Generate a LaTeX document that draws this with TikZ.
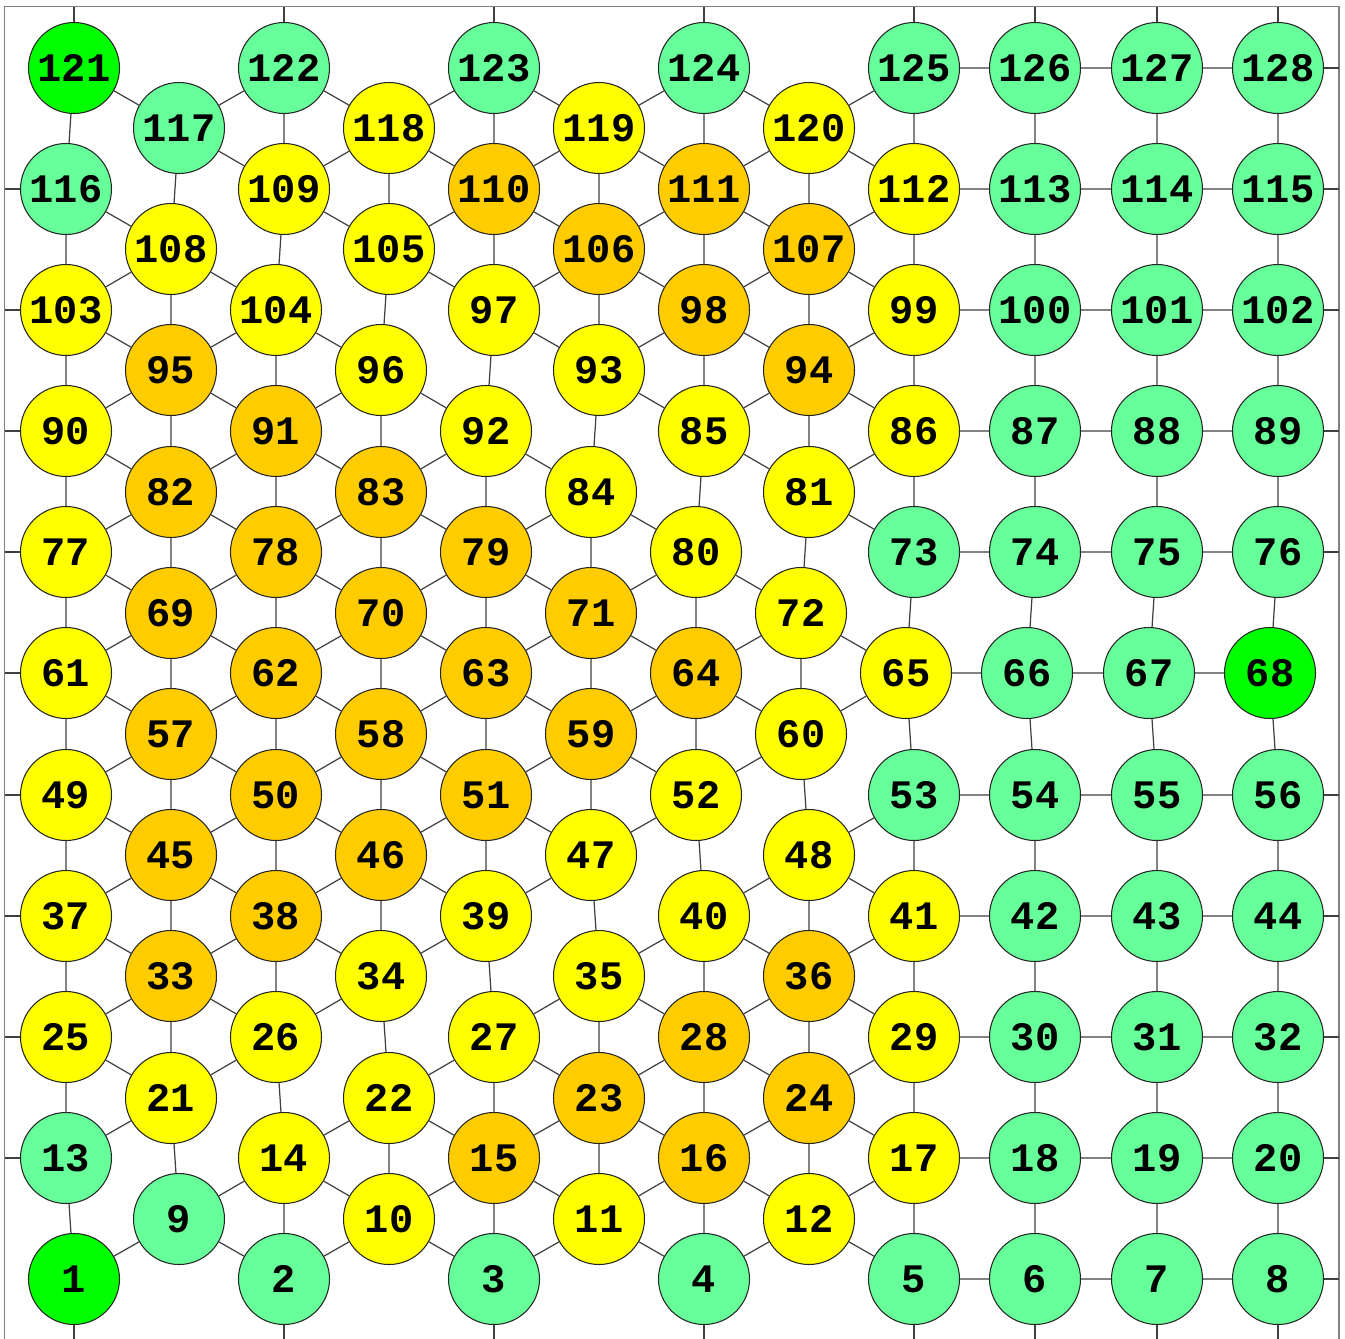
\documentclass[tikz,border=0pt]{standalone}
\usepackage{fontspec}
\usepackage{tikz}
\newfontfamily\meshmono{Liberation Mono}
\definecolor{leafgreen}{HTML}{00FF00}
\definecolor{mintgreen}{HTML}{66FF99}
\definecolor{amberfill}{HTML}{FFCC00}
\definecolor{sunfill}{HTML}{FFFF00}
\tikzset{
  cell/.style={circle, draw=black!85, line width=0.3pt, minimum size=0.91cm,
               inner sep=0pt, font=\meshmono\bfseries\fontsize{11.5}{12}\selectfont},
  leaf/.style={cell, fill=leafgreen},
  mint/.style={cell, fill=mintgreen},
  sun/.style={cell, fill=sunfill},
  amber/.style={cell, fill=amberfill},
  wire/.style={draw=black!75, line width=0.35pt},
  rim/.style={draw=black!50, line width=0.45pt},
}

\begin{document}
\begin{tikzpicture}

\useasboundingbox (0,0) rectangle (13.45,13.38);
\clip (0,0) rectangle (13.45,13.38);
\coordinate (tl) at (0.047,13.313);
\coordinate (br) at (13.387,-0.3);
\draw[rim] (br) rectangle (tl);

% nodes, bottom row first
\node[leaf] (n1) at (0.74,0.59) {1};
\node[mint] (n2) at (2.84,0.59) {2};
\node[mint] (n3) at (4.94,0.59) {3};
\node[mint] (n4) at (7.04,0.59) {4};
\node[mint] (n5) at (9.14,0.59) {5};
\node[mint] (n6) at (10.35,0.59) {6};
\node[mint] (n7) at (11.57,0.59) {7};
\node[mint] (n8) at (12.78,0.59) {8};
\node[mint] (n9) at (1.79,1.19) {9};
\node[sun] (n10) at (3.89,1.19) {10};
\node[sun] (n11) at (5.99,1.19) {11};
\node[sun] (n12) at (8.09,1.19) {12};
\node[mint] (n13) at (0.66,1.80) {13};
\node[sun] (n14) at (2.84,1.80) {14};
\node[amber] (n15) at (4.94,1.80) {15};
\node[amber] (n16) at (7.04,1.80) {16};
\node[sun] (n17) at (9.14,1.80) {17};
\node[mint] (n18) at (10.35,1.80) {18};
\node[mint] (n19) at (11.57,1.80) {19};
\node[mint] (n20) at (12.78,1.80) {20};
\node[sun] (n21) at (1.71,2.40) {21};
\node[sun] (n22) at (3.89,2.40) {22};
\node[amber] (n23) at (5.99,2.40) {23};
\node[amber] (n24) at (8.09,2.40) {24};
\node[sun] (n25) at (0.66,3.01) {25};
\node[sun] (n26) at (2.76,3.01) {26};
\node[sun] (n27) at (4.94,3.01) {27};
\node[amber] (n28) at (7.04,3.01) {28};
\node[sun] (n29) at (9.14,3.01) {29};
\node[mint] (n30) at (10.35,3.01) {30};
\node[mint] (n31) at (11.57,3.01) {31};
\node[mint] (n32) at (12.78,3.01) {32};
\node[amber] (n33) at (1.71,3.62) {33};
\node[sun] (n34) at (3.81,3.62) {34};
\node[sun] (n35) at (5.99,3.62) {35};
\node[amber] (n36) at (8.09,3.62) {36};
\node[sun] (n37) at (0.66,4.22) {37};
\node[amber] (n38) at (2.76,4.22) {38};
\node[sun] (n39) at (4.86,4.22) {39};
\node[sun] (n40) at (7.04,4.22) {40};
\node[sun] (n41) at (9.14,4.22) {41};
\node[mint] (n42) at (10.35,4.22) {42};
\node[mint] (n43) at (11.57,4.22) {43};
\node[mint] (n44) at (12.78,4.22) {44};
\node[amber] (n45) at (1.71,4.83) {45};
\node[amber] (n46) at (3.81,4.83) {46};
\node[sun] (n47) at (5.91,4.83) {47};
\node[sun] (n48) at (8.09,4.83) {48};
\node[sun] (n49) at (0.66,5.43) {49};
\node[amber] (n50) at (2.76,5.43) {50};
\node[amber] (n51) at (4.86,5.43) {51};
\node[sun] (n52) at (6.96,5.43) {52};
\node[mint] (n53) at (9.14,5.43) {53};
\node[mint] (n54) at (10.35,5.43) {54};
\node[mint] (n55) at (11.57,5.43) {55};
\node[mint] (n56) at (12.78,5.43) {56};
\node[amber] (n57) at (1.71,6.04) {57};
\node[amber] (n58) at (3.81,6.04) {58};
\node[amber] (n59) at (5.91,6.04) {59};
\node[sun] (n60) at (8.01,6.04) {60};
\node[sun] (n61) at (0.66,6.65) {61};
\node[amber] (n62) at (2.76,6.65) {62};
\node[amber] (n63) at (4.86,6.65) {63};
\node[amber] (n64) at (6.96,6.65) {64};
\node[sun] (n65) at (9.06,6.65) {65};
\node[mint] (n66) at (10.27,6.65) {66};
\node[mint] (n67) at (11.49,6.65) {67};
\node[leaf] (n68) at (12.70,6.65) {68};
\node[amber] (n69) at (1.71,7.25) {69};
\node[amber] (n70) at (3.81,7.25) {70};
\node[amber] (n71) at (5.91,7.25) {71};
\node[sun] (n72) at (8.01,7.25) {72};
\node[mint] (n73) at (9.14,7.86) {73};
\node[mint] (n74) at (10.35,7.86) {74};
\node[mint] (n75) at (11.57,7.86) {75};
\node[mint] (n76) at (12.78,7.86) {76};
\node[sun] (n77) at (0.66,7.86) {77};
\node[amber] (n78) at (2.76,7.86) {78};
\node[amber] (n79) at (4.86,7.86) {79};
\node[sun] (n80) at (6.96,7.86) {80};
\node[sun] (n81) at (8.09,8.46) {81};
\node[amber] (n82) at (1.71,8.46) {82};
\node[amber] (n83) at (3.81,8.46) {83};
\node[sun] (n84) at (5.91,8.46) {84};
\node[sun] (n85) at (7.04,9.07) {85};
\node[sun] (n86) at (9.14,9.07) {86};
\node[mint] (n87) at (10.35,9.07) {87};
\node[mint] (n88) at (11.57,9.07) {88};
\node[mint] (n89) at (12.78,9.07) {89};
\node[sun] (n90) at (0.66,9.07) {90};
\node[amber] (n91) at (2.76,9.07) {91};
\node[sun] (n92) at (4.86,9.07) {92};
\node[sun] (n93) at (5.99,9.68) {93};
\node[amber] (n94) at (8.09,9.68) {94};
\node[amber] (n95) at (1.71,9.68) {95};
\node[sun] (n96) at (3.81,9.68) {96};
\node[sun] (n97) at (4.94,10.28) {97};
\node[amber] (n98) at (7.04,10.28) {98};
\node[sun] (n99) at (9.14,10.28) {99};
\node[mint] (n100) at (10.35,10.28) {100};
\node[mint] (n101) at (11.57,10.28) {101};
\node[mint] (n102) at (12.78,10.28) {102};
\node[sun] (n103) at (0.66,10.28) {103};
\node[sun] (n104) at (2.76,10.28) {104};
\node[sun] (n105) at (3.89,10.89) {105};
\node[amber] (n106) at (5.99,10.89) {106};
\node[amber] (n107) at (8.09,10.89) {107};
\node[sun] (n108) at (1.71,10.89) {108};
\node[sun] (n109) at (2.84,11.49) {109};
\node[amber] (n110) at (4.94,11.49) {110};
\node[amber] (n111) at (7.04,11.49) {111};
\node[sun] (n112) at (9.14,11.49) {112};
\node[mint] (n113) at (10.35,11.49) {113};
\node[mint] (n114) at (11.57,11.49) {114};
\node[mint] (n115) at (12.78,11.49) {115};
\node[mint] (n116) at (0.66,11.49) {116};
\node[mint] (n117) at (1.79,12.10) {117};
\node[sun] (n118) at (3.89,12.10) {118};
\node[sun] (n119) at (5.99,12.10) {119};
\node[sun] (n120) at (8.09,12.10) {120};
\node[leaf] (n121) at (0.74,12.70) {121};
\node[mint] (n122) at (2.84,12.70) {122};
\node[mint] (n123) at (4.94,12.70) {123};
\node[mint] (n124) at (7.04,12.70) {124};
\node[mint] (n125) at (9.14,12.70) {125};
\node[mint] (n126) at (10.35,12.70) {126};
\node[mint] (n127) at (11.57,12.70) {127};
\node[mint] (n128) at (12.78,12.70) {128};

% zig-zags between rows, then the grid rows
\draw[wire] (n1) -- (n9) -- (n2) -- (n10) -- (n3) -- (n11) -- (n4) -- (n12) -- (n5) -- (n6) -- (n7) -- (n8);
\draw[wire] (n9) -- (n14) -- (n10) -- (n15) -- (n11) -- (n16) -- (n12) -- (n17) -- (n18) -- (n19) -- (n20);
\draw[wire] (n13) -- (n21) (n14) -- (n22) -- (n15) -- (n23) -- (n16) -- (n24) -- (n17);
\draw[wire] (n25) -- (n21) -- (n26) (n22) -- (n27) -- (n23) -- (n28) -- (n24) -- (n29) -- (n30) -- (n31) -- (n32);
\draw[wire] (n25) -- (n33) -- (n26) -- (n34) (n27) -- (n35) -- (n28) -- (n36) -- (n29);
\draw[wire] (n37) -- (n33) -- (n38) -- (n34) -- (n39) (n35) -- (n40) -- (n36) -- (n41) -- (n42) -- (n43) -- (n44);
\draw[wire] (n37) -- (n45) -- (n38) -- (n46) -- (n39) -- (n47) (n40) -- (n48) -- (n41);
\draw[wire] (n49) -- (n45) -- (n50) -- (n46) -- (n51) -- (n47) -- (n52) (n48) -- (n53) -- (n54) -- (n55) -- (n56);
\draw[wire] (n49) -- (n57) -- (n50) -- (n58) -- (n51) -- (n59) -- (n52) -- (n60);
\draw[wire] (n61) -- (n57) -- (n62) -- (n58) -- (n63) -- (n59) -- (n64) -- (n60) -- (n65) -- (n66) -- (n67) -- (n68);
\draw[wire] (n61) -- (n69) -- (n62) -- (n70) -- (n63) -- (n71) -- (n64) -- (n72) -- (n65);
\draw[wire] (n77) -- (n69) -- (n78) -- (n70) -- (n79) -- (n71) -- (n80) -- (n72) (n73) -- (n74) -- (n75) -- (n76);
\draw[wire] (n77) -- (n82) -- (n78) -- (n83) -- (n79) -- (n84) -- (n80) (n81) -- (n73);
\draw[wire] (n90) -- (n82) -- (n91) -- (n83) -- (n92) -- (n84) (n85) -- (n81) -- (n86) -- (n87) -- (n88) -- (n89);
\draw[wire] (n90) -- (n95) -- (n91) -- (n96) -- (n92) (n93) -- (n85) -- (n94) -- (n86);
\draw[wire] (n103) -- (n95) -- (n104) -- (n96) (n97) -- (n93) -- (n98) -- (n94) -- (n99) -- (n100) -- (n101) -- (n102);
\draw[wire] (n103) -- (n108) -- (n104) (n105) -- (n97) -- (n106) -- (n98) -- (n107) -- (n99);
\draw[wire] (n116) -- (n108) (n109) -- (n105) -- (n110) -- (n106) -- (n111) -- (n107) -- (n112) -- (n113) -- (n114) -- (n115);
\draw[wire] (n117) -- (n109) -- (n118) -- (n110) -- (n119) -- (n111) -- (n120) -- (n112);
\draw[wire] (n121) -- (n117) -- (n122) -- (n118) -- (n123) -- (n119) -- (n124) -- (n120) -- (n125) -- (n126) -- (n127) -- (n128);

% columns
\draw[wire] (n1) -- (n13) -- (n25) -- (n37) -- (n49) -- (n61) -- (n77) -- (n90) -- (n103) -- (n116) -- (n121);
\draw[wire] (n9) -- (n21) -- (n33) -- (n45) -- (n57) -- (n69) -- (n82) -- (n95) -- (n108) -- (n117);
\draw[wire] (n2) -- (n14) -- (n26) -- (n38) -- (n50) -- (n62) -- (n78) -- (n91) -- (n104) -- (n109) -- (n122);
\draw[wire] (n10) -- (n22) -- (n34) -- (n46) -- (n58) -- (n70) -- (n83) -- (n96) -- (n105) -- (n118);
\draw[wire] (n3) -- (n15) -- (n27) -- (n39) -- (n51) -- (n63) -- (n79) -- (n92) -- (n97) -- (n110) -- (n123);
\draw[wire] (n11) -- (n23) -- (n35) -- (n47) -- (n59) -- (n71) -- (n84) -- (n93) -- (n106) -- (n119);
\draw[wire] (n4) -- (n16) -- (n28) -- (n40) -- (n52) -- (n64) -- (n80) -- (n85) -- (n98) -- (n111) -- (n124);
\draw[wire] (n12) -- (n24) -- (n36) -- (n48) -- (n60) -- (n72) -- (n81) -- (n94) -- (n107) -- (n120);
\draw[wire] (n5) -- (n17) -- (n29) -- (n41) -- (n53) -- (n65) -- (n73) -- (n86) -- (n99) -- (n112) -- (n125);
\draw[wire] (n6) -- (n18) -- (n30) -- (n42) -- (n54) -- (n66) -- (n74) -- (n87) -- (n100) -- (n113) -- (n126);
\draw[wire] (n7) -- (n19) -- (n31) -- (n43) -- (n55) -- (n67) -- (n75) -- (n88) -- (n101) -- (n114) -- (n127);
\draw[wire] (n8) -- (n20) -- (n32) -- (n44) -- (n56) -- (n68) -- (n76) -- (n89) -- (n102) -- (n115) -- (n128);

% stubs out to the frame
\draw[wire] (n121) -- (n121 |- tl) (n122) -- (n122 |- tl) (n123) -- (n123 |- tl) (n124) -- (n124 |- tl)
  (n125) -- (n125 |- tl) (n126) -- (n126 |- tl) (n127) -- (n127 |- tl) (n128) -- (n128 |- tl);
\draw[wire] (n1) -- (n1 |- br) (n2) -- (n2 |- br) (n3) -- (n3 |- br) (n4) -- (n4 |- br)
  (n5) -- (n5 |- br) (n6) -- (n6 |- br) (n7) -- (n7 |- br) (n8) -- (n8 |- br);
\draw[wire] (n116) -- (n116 -| tl) (n103) -- (n103 -| tl) (n90) -- (n90 -| tl) (n77) -- (n77 -| tl)
  (n61) -- (n61 -| tl) (n49) -- (n49 -| tl) (n37) -- (n37 -| tl) (n25) -- (n25 -| tl) (n13) -- (n13 -| tl);
\draw[wire] (n128) -- (n128 -| br) (n115) -- (n115 -| br) (n102) -- (n102 -| br) (n89) -- (n89 -| br)
  (n76) -- (n76 -| br) (n56) -- (n56 -| br) (n44) -- (n44 -| br) (n32) -- (n32 -| br) (n20) -- (n20 -| br)
  (n8) -- (n8 -| br);

\end{tikzpicture}
\end{document}
